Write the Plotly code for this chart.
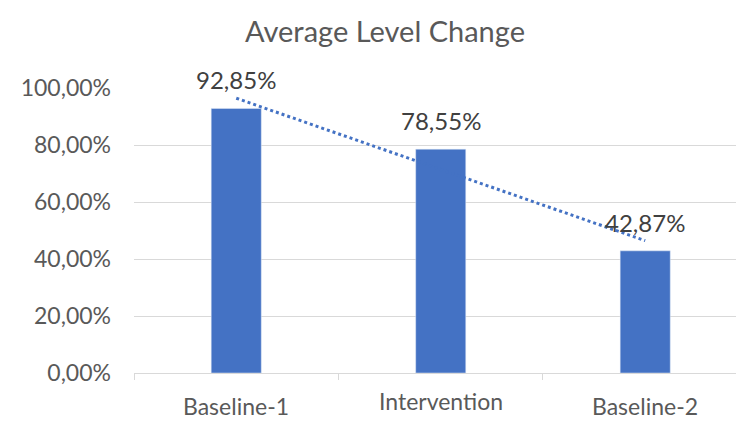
import numpy as np
import plotly.graph_objects as go

categories = ["Baseline-1", "Intervention", "Baseline-2"]
values = [0.9285, 0.7855, 0.4287]
y_ticks = [0, 0.2, 0.4, 0.6, 0.8, 1.0]
title_text = "Average Level Change"

BLUE = "#4472C4"
GRAY = "#595959"
FONT = "Lato"

# Linear trendline (as in Excel's linear trendline) fitted to the values
xs = np.arange(len(values))
slope, intercept = np.polyfit(xs, values, 1)
trend = [intercept + slope * x for x in xs]

fig = go.Figure()
fig.add_trace(go.Bar(
    x=categories, y=values, marker_color=BLUE, width=0.245,
    hoverinfo="skip", showlegend=False,
))
fig.add_trace(go.Scatter(
    x=categories, y=trend, mode="lines",
    line=dict(color=BLUE, width=3, dash="dot"),
    hoverinfo="skip", showlegend=False,
))

for c, v in zip(categories, values):
    fig.add_annotation(
        x=c, y=v, text=f"{v*100:.2f}%".replace(".", ","),
        showarrow=False, yanchor="bottom", yshift=12,
        font=dict(family=FONT, size=24, color="#404040"),
    )

# category labels (Excel draws "Intervention" slightly higher)
label_shift = [0, 5, 0]
for c, s in zip(categories, label_shift):
    fig.add_annotation(
        x=c, y=0, yref="y", text=c, showarrow=False,
        yanchor="middle", yshift=-33 + s,
        font=dict(family=FONT, size=23, color=GRAY),
    )

fig.update_layout(
    width=736, height=421,
    margin=dict(l=134, r=0, t=88, b=48),
    paper_bgcolor="white", plot_bgcolor="white",
    separators=",.",
    title=dict(text=title_text, x=385/736, xref="container", xanchor="center",
               y=1 - 32/421, yref="container", yanchor="middle",
               font=dict(family=FONT, size=29, color=GRAY)),
)
fig.update_xaxes(
    range=[-0.5, 2.444], showgrid=False, showline=True, linecolor="#d9d9d9", linewidth=1,
    ticks="outside", tickson="boundaries", ticklen=6, tickcolor="#d9d9d9",
    showticklabels=False,
)
fig.update_yaxes(
    range=[0, 1.0], tickvals=y_ticks, tickformat=".2%",
    showgrid=True, gridcolor="#d9d9d9", gridwidth=1, zeroline=False,
    ticks="", ticklabelstandoff=22,
    tickfont=dict(family=FONT, size=23, color=GRAY),
)

fig.write_html("out.html", config={"displayModeBar": False},
               post_script="document.body.style.margin='0';")
